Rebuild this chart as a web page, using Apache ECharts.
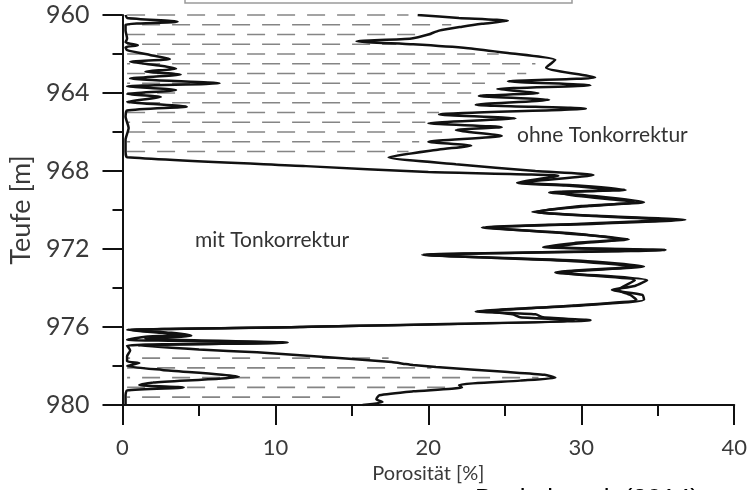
<!DOCTYPE html>
<html>
<head>
<meta charset="utf-8">
<script src="https://cdn.jsdelivr.net/npm/echarts@6/dist/echarts.min.js"></script>
<style>
html,body{margin:0;padding:0;background:#fff;}
#main{width:750px;height:490px;}
</style>
</head>
<body>
<div id="main"></div>
<script>
// Porositaet ohne Tonkorrektur (rechte Kurve)
var ohneDepth = [960.0,960.15,960.3,960.45,960.6,960.8,961.0,961.2,961.35,961.5,961.7,961.95,962.3,962.5,962.7,963.2,963.4,963.6,963.8,964.0,964.15,964.35,964.6,964.8,965.1,965.3,965.55,965.75,965.9,966.2,966.5,966.7,966.9,967.3,967.65,968.0,968.2,
  968.6,968.75,968.97,969.1,969.3,969.6,969.8,970.1,970.3,970.5,970.7,970.9,971.2,971.5,971.7,971.9,972.05,972.3,972.6,972.9,973.2,973.6,973.9,974.1,974.35,974.6,974.9,975.2,975.35,975.5,975.65,976.0,976.15,
  976.3,976.45,976.6,976.8,976.95,977.15,977.3,977.45,977.8,977.9,977.95,978.05,978.3,978.45,978.6,978.75,978.97,979.1,979.3,979.5,979.7,979.85,980.0];
var ohnePoro = [19.3,22.0,25.2,23.5,22.2,20.7,20.0,18.9,15.3,19.0,22.6,25.2,28.3,28.0,27.7,30.9,25.2,30.6,24.5,27.2,23.3,27.9,23.1,30.3,20.7,25.7,20.0,24.8,21.8,24.8,20.0,22.8,20.7,17.4,21.8,27.0,30.8,
  26.1,30.0,32.9,27.9,31.0,34.1,30.0,27.0,31.0,36.8,31.0,23.9,29.0,33.1,30.0,27.9,35.5,19.6,30.0,34.1,28.7,34.3,33.5,32.0,34.0,34.1,30.0,23.1,27.0,27.5,30.6,11.6,0.5,
  3.2,4.5,1.5,10.8,1.0,5.0,8.8,11.6,17.6,18.5,19.0,20.5,25.0,27.6,28.3,26.0,22.0,22.2,19.0,16.8,16.6,17.0,15.7];

// Porositaet mit Tonkorrektur (linke Kurve)
var mitDepth = [960.0,960.15,960.35,960.5,960.8,961.2,961.4,961.55,961.65,961.8,962.05,962.25,962.4,962.6,962.75,962.9,963.05,963.25,963.5,963.65,963.85,964.05,964.2,964.45,964.7,964.9,965.2,965.8,966.4,967.0,967.3,967.75,968.05,968.25,
  968.6,968.75,968.97,969.1,969.3,969.6,969.8,970.1,970.3,970.5,970.7,970.9,971.2,971.5,971.7,971.9,972.05,972.3,972.6,972.9,973.2,973.6,973.9,974.1,974.35,974.6,974.9,975.2,975.35,975.5,975.65,976.0,976.15,
  976.3,976.4,976.5,976.65,976.8,976.95,977.2,977.5,977.75,977.85,978.0,978.2,978.55,978.85,978.97,979.1,979.25,979.5,980.0];
var mitPoro = [0.2,0.3,3.6,0.2,0.2,0.3,0.2,1.0,0.2,0.3,1.8,3.1,0.5,2.5,3.5,1.5,3.8,0.5,6.35,0.3,3.5,0.3,2.5,0.3,4.2,0.3,0.2,0.4,0.2,0.2,0.3,12.0,20.0,28.5,
  25.8,29.0,32.0,28.5,30.0,33.5,30.5,26.8,30.5,35.5,30.0,23.5,29.5,32.5,29.5,27.5,34.0,19.8,29.0,33.5,28.3,33.5,32.8,32.4,33.2,33.6,29.5,24.0,25.5,26.0,29.5,11.6,0.3,
  2.6,4.2,1.5,0.3,10.5,0.3,0.5,0.3,0.3,1.1,0.3,2.6,7.6,2.0,1.1,4.0,0.3,0.2,0.2];

// Schraffur (Tonlagen): Teufe und Reichweite der Strichlinien
var hatchDepth = [960.0,960.5,961.0,961.5,962.0,962.5,963.0,963.5,964.0,964.5,965.0,965.5,966.0,966.5,967.0,
  977.6,978.1,978.6,979.1,979.6];
var hatchEnd = [18.7,21.5,20.2,17.9,24.6,27.0,26.4,23.7,22.8,22.2,20.7,19.8,20.9,19.4,18.7,
  17.4,20.2,27.2,21.3,15.0];

var xTicks = [0, 10, 20, 30, 40];
var yTicks = [960, 964, 968, 972, 976, 980];

function pairs(xs, ys) {
	var out = [];
	for (var i = 0; i < xs.length; i++) out.push([xs[i], ys[i]]);
	return out;
}

var hatchData = [];
for (var i = 0; i < hatchDepth.length; i++) {
	hatchData.push([hatchEnd[i], hatchDepth[i]]);
}

var myChart = echarts.init(document.getElementById('main'));
var fontFam = 'Lato';

var option = {
	backgroundColor: '#fff',
	animation: false,
	grid: { left: 122.5, right: 14, top: 15, bottom: 85 },
	xAxis: {
		type: 'value',
		min: xTicks[0], max: xTicks[xTicks.length - 1], interval: 10,
		name: 'Porosität [%]',
		nameLocation: 'middle',
		nameGap: 54,
		nameTextStyle: { fontSize: 20, color: '#3a3a3a', fontFamily: fontFam },
		axisLine: { show: true, onZero: false, lineStyle: { color: '#111', width: 2 } },
		axisTick: { show: true, length: 20, lineStyle: { color: '#111', width: 2 } },
		minorTick: { show: true, splitNumber: 2, length: 11, lineStyle: { color: '#111', width: 2 } },
		axisLabel: { margin: 32, fontSize: 22, color: '#3a3a3a', fontFamily: fontFam },
		splitLine: { show: false }
	},
	yAxis: {
		type: 'value',
		inverse: true,
		min: yTicks[0], max: yTicks[yTicks.length - 1], interval: 4,
		name: 'Teufe [m]',
		nameLocation: 'middle',
		nameGap: 84,
		nameRotate: 90,
		nameTextStyle: { fontSize: 27, color: '#3a3a3a', fontFamily: fontFam },
		axisLine: { show: true, onZero: false, lineStyle: { color: '#111', width: 2 } },
		axisTick: { show: true, length: 20, lineStyle: { color: '#111', width: 2 } },
		minorTick: { show: true, splitNumber: 2, length: 10, lineStyle: { color: '#111', width: 2 } },
		axisLabel: { margin: 33, fontSize: 25, color: '#3a3a3a', fontFamily: fontFam },
		splitLine: { show: false }
	},
	series: [
		{
			type: 'custom',
			name: 'Schraffur',
			z: 1,
			silent: true,
			data: hatchData,
			renderItem: function (params, api) {
				var a = api.coord([0.3, api.value(1)]);
				var b = api.coord([api.value(0), api.value(1)]);
				return {
					type: 'line',
					shape: { x1: a[0], y1: a[1], x2: b[0], y2: b[1] },
					style: {
						stroke: '#858585',
						lineWidth: 1.7,
						lineDash: [18, 12],
						lineDashOffset: (params.dataIndex % 2) * 15
					}
				};
			}
		},
		{
			type: 'line',
			name: 'ohne Tonkorrektur',
			z: 3,
			data: pairs(ohnePoro, ohneDepth),
			showSymbol: false,
			smooth: 0.2,
			lineStyle: { color: '#111', width: 2.5 }
		},
		{
			type: 'line',
			name: 'mit Tonkorrektur',
			z: 3,
			data: pairs(mitPoro, mitDepth),
			showSymbol: false,
			smooth: 0.2,
			lineStyle: { color: '#111', width: 2.5 }
		}
	],
	graphic: [
		{
			type: 'rect',
			shape: { x: 185, y: -12, width: 387, height: 15 },
			style: { fill: '#fff', stroke: '#9a9a9a', lineWidth: 1.5 }
		},
		{
			type: 'text', left: 517, top: 125,
			style: { text: 'ohne Tonkorrektur', fontSize: 21, fill: '#333', fontFamily: fontFam }
		},
		{
			type: 'text', left: 195, top: 230,
			style: { text: 'mit Tonkorrektur', fontSize: 21, fill: '#333', fontFamily: fontFam }
		},
		{
			type: 'text', left: 475, top: 487,
			style: { text: 'Buckel et al. (2014)', fontSize: 26, fill: '#000', fontFamily: 'Liberation Sans' }
		}
	]
};

myChart.setOption(option, true);
</script>
</body>
</html>
